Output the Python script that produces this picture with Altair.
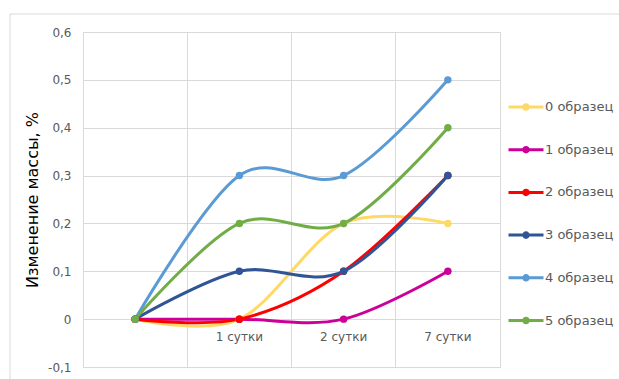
import altair as alt
import pandas as pd

# Time points (first one is the unlabelled start) and sample names
days = ["", "1 сутки", "2 сутки", "7 сутки"]
samples = ["0 образец", "1 образец", "2 образец", "3 образец", "4 образец", "5 образец"]

# Mass change, % for each sample at each time point
s0 = [0.0, 0.0, 0.2, 0.2]
s1 = [0.0, 0.0, 0.0, 0.1]
s2 = [0.0, 0.0, 0.1, 0.3]
s3 = [0.0, 0.1, 0.1, 0.3]
s4 = [0.0, 0.3, 0.3, 0.5]
s5 = [0.0, 0.2, 0.2, 0.4]
series = [s0, s1, s2, s3, s4, s5]

colors = ["#FFD966", "#CC0099", "#FF0000", "#2F5597", "#5B9BD5", "#70AD47"]
y_ticks = [-0.1, 0.0, 0.1, 0.2, 0.3, 0.4, 0.5, 0.6]

rows = []
for name, vals in zip(samples, series):
    for d, v in zip(days, vals):
        rows.append({"day": d, "sample": name, "value": v})
df = pd.DataFrame(rows)

FONT = "DejaVu Sans"
GRID = "#D9D9D9"
TEXT = "#595959"

# legend glyph: a short line with a small dot in the middle
legend_symbol = "M-1,0H1M0.13,0A0.13,0.13,0,1,1,-0.13,0A0.13,0.13,0,1,1,0.13,0"

x_enc = alt.X(
    "day:N",
    sort=days,
    scale=alt.Scale(type="band", paddingInner=0, paddingOuter=0),
    axis=alt.Axis(
        title=None,
        orient="bottom",
        offset=-48,
        bandPosition=0,
        grid=True,
        gridColor=GRID,
        domain=False,
        ticks=False,
        labelPadding=12,
        labelFont=FONT,
        labelFontSize=12,
        labelColor=TEXT,
        labelAngle=0,
    ),
)
y_enc = alt.Y(
    "value:Q",
    scale=alt.Scale(domain=[-0.1, 0.6], nice=False, zero=False),
    axis=alt.Axis(
        title="Изменение массы, %",
        values=y_ticks,
        labelExpr="replace(replace(format(datum.value, '.1~f'), '.', ','), '\u2212', '-')",
        grid=True,
        gridColor=GRID,
        domain=False,
        ticks=False,
        labelPadding=12,
        labelFont=FONT,
        labelFontSize=12,
        labelColor=TEXT,
        titleFont=FONT,
        titleFontSize=16,
        titleFontWeight="normal",
        titleColor="#000000",
        titlePadding=7,
    ),
)
color_enc = alt.Color(
    "sample:N",
    sort=samples,
    scale=alt.Scale(domain=samples, range=colors),
    legend=alt.Legend(
        title=None,
        orient="none",
        legendX=424,
        legendY=56,
        symbolType=legend_symbol,
        symbolSize=1225,
        symbolStrokeWidth=3,
        rowPadding=14.7,
        labelFont=FONT,
        labelFontSize=13,
        labelColor=TEXT,
        labelOffset=0,
    ),
)

base = alt.Chart(df)

lines = base.mark_line(interpolate="cardinal", strokeWidth=3).encode(
    x=x_enc, y=y_enc, color=color_enc, order=alt.Order("day:N")
)
points = base.mark_point(filled=True, size=55, opacity=1).encode(
    x=x_enc, y=y_enc, color=alt.Color("sample:N", sort=samples, scale=alt.Scale(domain=samples, range=colors), legend=None)
)

# outer chart frame
frame = alt.Chart(pd.DataFrame({"f": [0]})).mark_rect(
    fill=None, stroke=GRID, strokeWidth=1
).encode(
    x=alt.value(-73), x2=alt.value(560), y=alt.value(-18), y2=alt.value(380)
)

chart = alt.layer(frame, lines, points).properties(
    width=417,
    height=335,
    autosize=alt.AutoSizeParams(type="none"),
    padding={"left": 83, "top": 32, "right": 119, "bottom": 12},
    background="#FFFFFF",
).configure_view(stroke=GRID, strokeWidth=1)

chart.save("out.html", embed_options={"renderer": "svg", "actions": False})
